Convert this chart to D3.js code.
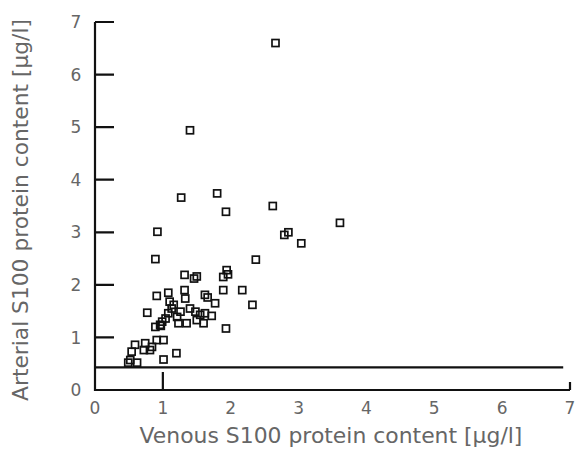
<!DOCTYPE html>
<html>
<head>
<meta charset="utf-8">
<script src="https://cdn.jsdelivr.net/npm/d3@7"></script>
<style>
html,body{margin:0;padding:0;background:#fff;}
svg{display:block;}
text{font-family:"DejaVu Sans",sans-serif;fill:#666;}
</style>
</head>
<body>
<svg id="chart" width="576" height="453"></svg>
<script>
// Venous S100 (x) and arterial S100 (y), µg/l
const venous = [2.66,1.40,1.27,1.80,1.93,0.92,2.62,2.79,2.85,3.04,3.61,0.89,2.37,
  1.32,1.46,1.50,1.94,1.89,1.96,1.89,2.17,2.32,1.93,
  0.91,1.08,1.10,1.32,1.33,1.62,1.66,1.77,
  0.77,1.16,1.26,1.40,1.48,1.55,1.62,1.72,1.60,1.50,1.35,1.23,1.21,1.08,0.99,0.96,0.89,1.04,
  1.01,0.91,0.84,0.81,0.74,0.72,0.59,0.54,0.52,0.62,0.49,1.01,1.20,0.97,1.13];
const arterial = [6.60,4.94,3.66,3.74,3.39,3.01,3.50,2.95,3.00,2.79,3.18,2.49,2.48,
  2.19,2.12,2.16,2.28,2.15,2.20,1.90,1.90,1.62,1.17,
  1.79,1.85,1.68,1.90,1.74,1.81,1.76,1.65,
  1.47,1.62,1.49,1.55,1.49,1.43,1.46,1.41,1.27,1.33,1.27,1.27,1.39,1.46,1.30,1.24,1.20,1.36,
  0.95,0.95,0.82,0.76,0.89,0.76,0.86,0.73,0.57,0.52,0.52,0.58,0.70,1.22,1.55];
const xTickLabels = ["0","1","2","3","4","5","6","7"];
const yTickLabels = ["0","1","2","3","4","5","6","7"];
const referenceLevel = 0.43;
const xTitle = "Venous S100 protein content [µg/l]";
const yTitle = "Arterial S100 protein content [µg/l]";

const svg = d3.select("#chart");
const x = d3.scaleLinear().domain([0,7]).range([95,570]);
const y = d3.scaleLinear().domain([0,7]).range([390,22]);

const axisColor = "#111";

// y axis: path with inward ticks
const yTickVals = yTickLabels.map(Number).filter(v=>v>0);
let yPath = `M${x(0)},${y(0)+1}V${y(7)}`;
yTickVals.forEach(v=>{ yPath += `M${x(0)},${y(v)}H${x(0)+19}`; });
svg.append("path").attr("d",yPath).attr("fill","none")
  .attr("stroke",axisColor).attr("stroke-width",2.2);
svg.append("g").selectAll("text").data(yTickLabels).join("text")
  .attr("x",76).attr("y",d=>y(+d)).attr("dy","0.36em")
  .attr("text-anchor","middle").attr("font-size",17).text(d=>d);

// x axis path with ticks at 1 and 7
const xPath = `M${x(0)-1},${y(0)}H${x(7)}M${x(1)},${y(0)}V${y(0)-18}M${x(7)},${y(0)}V${y(0)-8}`;
svg.append("path").attr("d",xPath).attr("fill","none")
  .attr("stroke",axisColor).attr("stroke-width",2.2);
svg.append("g").selectAll("text").data(xTickLabels).join("text")
  .attr("x",d=>x(+d)).attr("y",414)
  .attr("text-anchor","middle").attr("font-size",17).text(d=>d);

// reference line
svg.append("path")
  .attr("d",`M${x(0)},${y(referenceLevel)}H${x(6.9)}`)
  .attr("stroke",axisColor).attr("stroke-width",2.2);

// points
const s=7;
svg.append("g").selectAll("rect").data(d3.zip(venous,arterial)).join("rect")
  .attr("x",d=>x(d[0])-s/2).attr("y",d=>y(d[1])-s/2)
  .attr("width",s).attr("height",s)
  .attr("fill","none").attr("stroke","#111").attr("stroke-width",1.7);

// titles
function fitText(sel,w){
  const L=sel.node().getComputedTextLength();
  const fs=+sel.attr("font-size");
  sel.attr("font-size",fs*w/L);
}
const xt=svg.append("text").attr("x",331).attr("y",443).attr("text-anchor","middle")
  .attr("font-size",17).text(xTitle);
fitText(xt,383);
const yt=svg.append("text").attr("transform","translate(28,210) rotate(-90)")
  .attr("text-anchor","middle").attr("font-size",17).text(yTitle);
fitText(yt,382);
</script>
</body>
</html>
